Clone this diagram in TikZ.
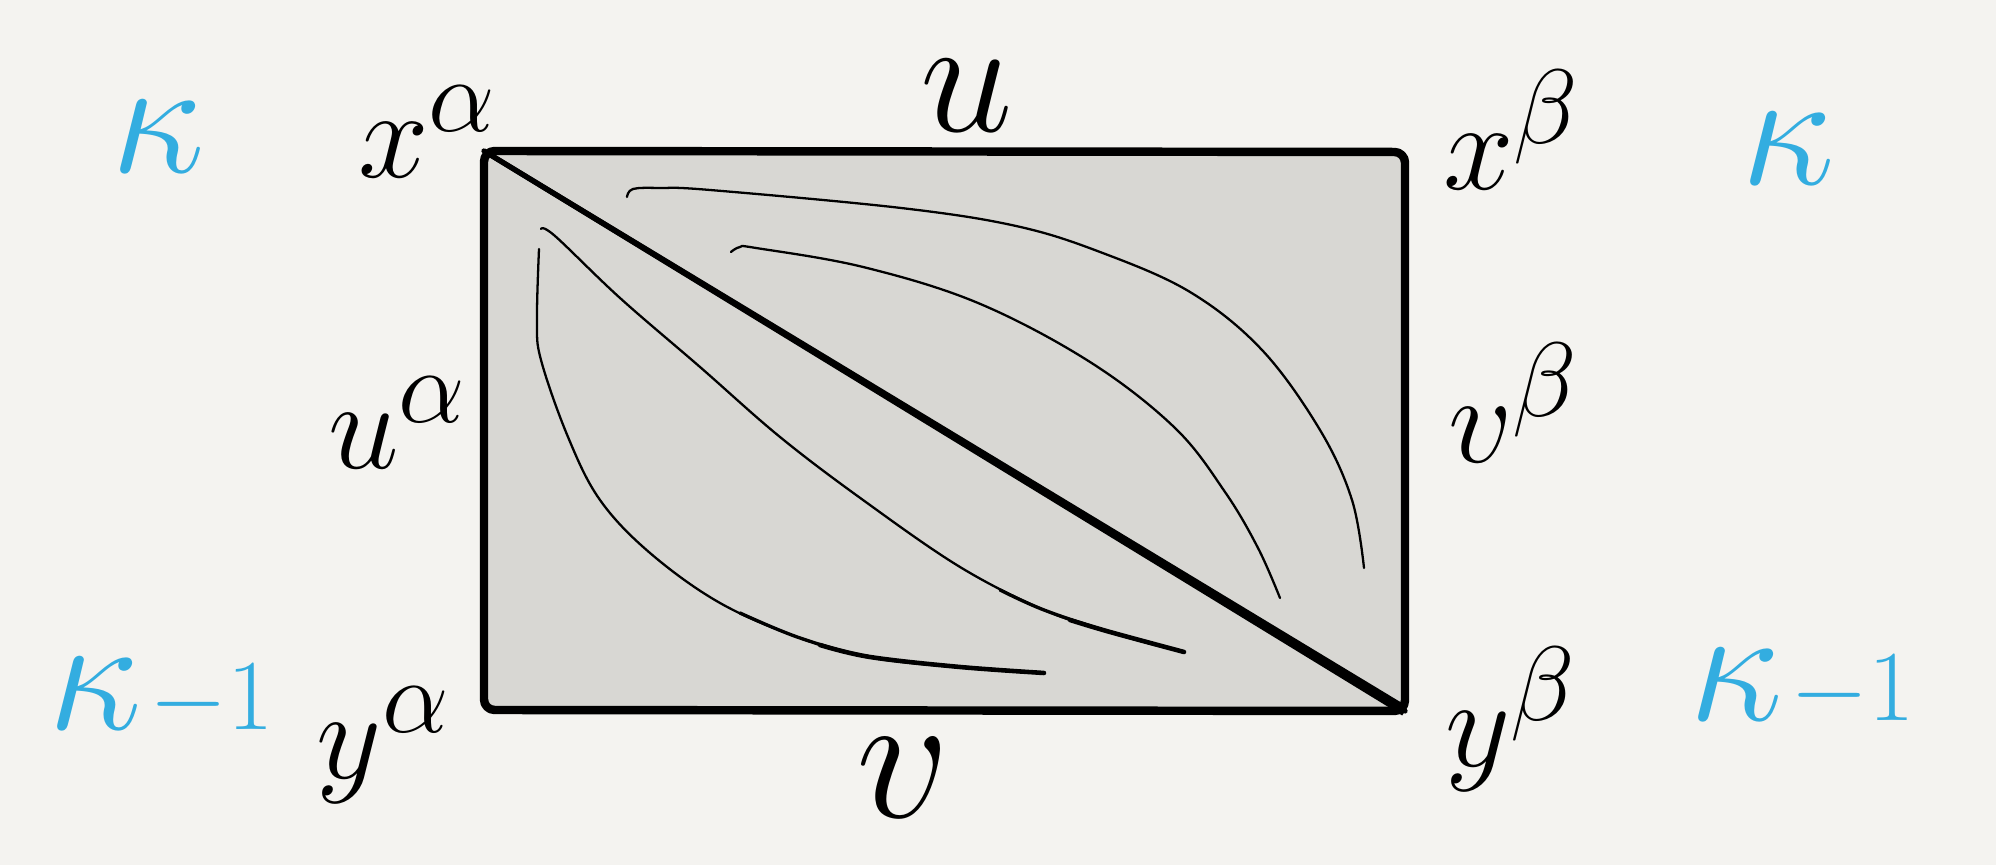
\documentclass[tikz,border=0pt]{standalone}
\usepackage{graphicx}
\usepackage{xcolor}
\usetikzlibrary{calc}
\definecolor{bgc}{HTML}{F4F3F0}
\definecolor{fillc}{HTML}{D8D7D3}
\definecolor{bluec}{HTML}{33ADE0}
\newcommand{\lab}[2]{\scalebox{#1}{\Huge$#2$}}
\newcommand{\kap}{\scalebox{1.9}{\Huge$\kappa$}}
\newcommand{\kapm}{\kap\hspace{2pt}\scalebox{1.15}{\Huge$-1$}}
\begin{document}
\begin{tikzpicture}[x=0.01cm,y=-0.01cm,
  lbl/.style={inner sep=0pt},
  blbl/.style={inner sep=0pt, text=bluec},
  edge/.style={line width=2.4pt, line cap=round, line join=round},
  diag/.style={line width=1.5pt, line cap=round},
  thin curve/.style={line width=0.65pt, line cap=round, line join=round},
  mid end/.style={line width=0.95pt, line cap=round, line join=round},
  heavy end/.style={line width=1.3pt, line cap=round, line join=round}]
\fill[bgc] (0,0) rectangle (1996,865);
\useasboundingbox (0,0) rectangle (1996,865);
% corners
\coordinate (TL) at (484,151);
\coordinate (TR) at (1405,152);
\coordinate (BR) at (1405,711);
\coordinate (BL) at (484,710);
\fill[fillc] (TL) -- (TR) -- (BR) -- (BL) -- cycle;
\draw[edge, rounded corners=3pt] (TL) -- (TR) -- (BR) -- (BL) -- cycle;
\draw[diag] (TL) -- (BR);
\fill ($(TL)!0.7pt!90:(BR)$) -- ($(BR)!1.5pt!-90:(TL)$) -- ($(BR)!1.5pt!90:(TL)$) -- ($(TL)!0.7pt!-90:(BR)$) -- cycle;
% curves
\draw[thin curve] plot[smooth, tension=0.6] coordinates {(627,197) (633,189) (660,188) (710,190) (901,208) (1016,226) (1100,252) (1190,292) (1262,350) (1320,430) (1352,500) (1364,568)};
\draw[thin curve] plot[smooth, tension=0.6] coordinates {(731,252) (740,247) (756,248) (863,267) (978,303) (1090,362) (1175,428) (1225,492) (1258,548) (1280,598)};
\draw[thin curve] plot[smooth, tension=0.6] coordinates {(541,229) (555,236) (620,298) (700,367) (780,437) (863,500) (960,567) (1044,610) (1110,632) (1184,652)};
\draw[mid end] plot[smooth, tension=0.6] coordinates {(1000,590) (1044,610) (1110,632) (1184,652)};
\draw[heavy end] plot[smooth, tension=0.6] coordinates {(1070,620) (1110,632) (1184,652)};
\draw[thin curve] plot[smooth, tension=0.6] coordinates {(539,249) (537,320) (541,360) (568,437) (600,500) (650,553) (720,603) (800,638) (870,657) (960,667) (1044,673)};
\draw[mid end] plot[smooth, tension=0.6] coordinates {(740,613) (800,638) (870,657) (960,667) (1044,673)};
\draw[heavy end] plot[smooth, tension=0.6] coordinates {(820,645) (870,657) (960,667) (1044,673)};
% labels
\node[lbl] (xa) at (428,132) {\lab{1.45}{x^{\alpha}}};
\node[lbl] (xb) at (1512,130) {\lab{1.45}{x^{\beta}}};
\node[lbl] (ya) at (384,745) {\lab{1.45}{y^{\alpha}}};
\node[lbl] (yb) at (1511,719) {\lab{1.45}{y^{\beta}}};
\node[lbl] (u) at (967,96) {\lab{1.9}{u}};
\node[lbl] (v) at (903,778) {\lab{2.1}{v}};
\node[lbl] (ua) at (398,423) {\lab{1.45}{u^{\alpha}}};
\node[lbl] (vb) at (1514,403) {\lab{1.45}{v^{\beta}}};
\node[blbl] (k1) at (158,137) {\kap};
\node[blbl] (k2) at (1788,149) {\kap};
\node[blbl] (k3) at (161,698) {\kapm};
\node[blbl] (k4) at (1802,689) {\kapm};
\end{tikzpicture}
\end{document}
